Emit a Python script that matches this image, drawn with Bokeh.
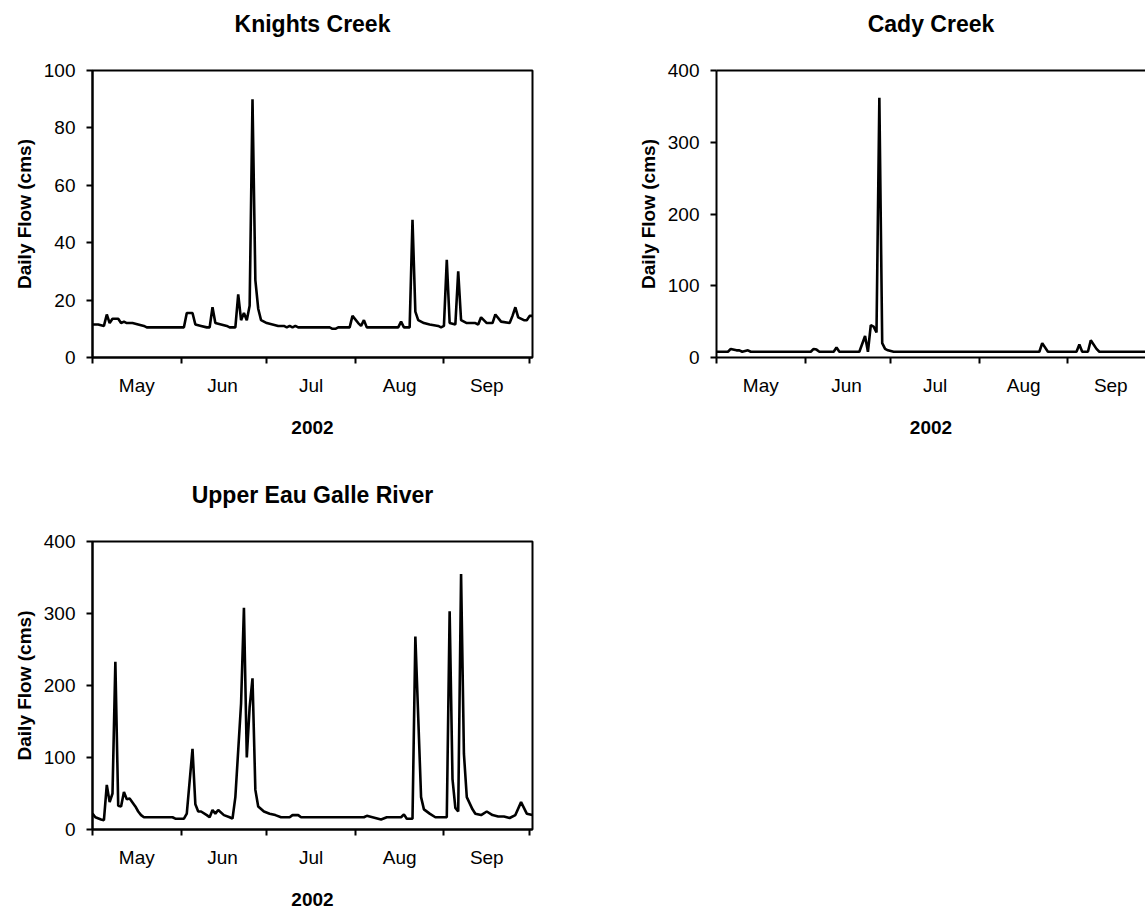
from bokeh.plotting import figure
from bokeh.models import Range1d, LinearAxis, FixedTicker
from bokeh.layouts import row, column
from bokeh.embed import file_html
from bokeh.resources import INLINE

# Days counted from 1 May 2002
month_ticks = [0, 31, 61, 92, 123, 153]
month_label_pos = [15.5, 45.5, 76.5, 107.5, 138]
month_labels = ["May", "Jun", "Jul", "Aug", "Sep"]
year_label = "2002"
y_title = "Daily Flow (cms)"

knights_day = [0, 2, 4, 5, 6, 7, 9, 10, 11, 12, 14, 16, 18, 19, 32, 33, 35, 36, 38, 40,
               41, 42, 43, 45, 47, 48, 50, 51, 52, 53, 54, 55, 56, 57, 58, 59, 61, 63, 65, 67,
               68, 69, 70, 71, 72, 83, 84, 85, 86, 90, 91, 93, 94, 95, 96, 107, 108, 109, 111, 112,
               113, 114, 116, 118, 121, 122, 123, 124, 125, 127, 128, 129, 131, 134, 135, 136, 138, 140, 141, 143,
               146, 147, 148, 149, 151, 152, 153, 154]
knights_flow = [11.5, 11.5, 11, 15, 12, 13.5, 13.5, 12, 12.5, 12, 12, 11.5, 11, 10.5, 10.5, 15.5, 15.5, 11.5, 11, 10.5,
                10.5, 17.5, 12, 11.5, 11, 10.5, 10.5, 22, 13, 15.5, 13, 18, 90, 27, 17, 13, 12, 11.5, 11, 11,
                10.5, 11, 10.5, 11, 10.5, 10.5, 10, 10, 10.5, 10.5, 14.5, 12, 11, 13, 10.5, 10.5, 12.5, 10.5, 10.5, 48,
                16, 13, 12, 11.5, 11, 10.5, 11, 34, 12, 11.5, 30, 13, 12, 12, 11.5, 14, 12, 12, 15, 12.5,
                12, 14.5, 17.5, 14, 13, 13, 14.5, 14.5]

cady_day = [0, 4, 5, 7, 8, 9, 11, 12, 33, 34, 35, 36, 41, 42, 43, 50, 52, 53, 54, 55,
            56, 57, 58, 59, 60, 62, 113, 114, 116, 126, 127, 128, 130, 131, 133, 134, 154]
cady_flow = [8, 8, 12, 10, 10, 8, 10, 8, 8, 12, 11, 8, 8, 14, 8, 8, 30, 8, 45, 43,
             35, 362, 20, 12, 10, 8, 8, 20, 8, 8, 18, 8, 8, 24, 12, 8, 8]

eau_day = [0, 1, 3, 4, 5, 6, 7, 8, 9, 10, 11, 12, 13, 15, 16, 17, 18, 28, 29, 32,
           33, 35, 36, 37, 38, 40, 41, 42, 43, 44, 46, 48, 49, 50, 52, 53, 54, 55, 56, 57,
           58, 60, 62, 64, 66, 69, 70, 72, 73, 95, 96, 98, 101, 103, 108, 109, 110, 112, 113, 115,
           116, 118, 120, 124, 125, 126, 127, 128, 129, 130, 131, 133, 134, 136, 138, 140, 142, 144, 146, 148,
           150, 152, 154]
eau_flow = [22, 17, 14, 13, 62, 38, 50, 233, 33, 32, 52, 42, 43, 32, 25, 20, 17, 17, 15, 15,
            22, 112, 35, 25, 25, 20, 17, 27, 22, 27, 20, 17, 15, 45, 175, 308, 100, 170, 210, 55,
            32, 25, 22, 20, 17, 17, 20, 20, 17, 17, 19, 17, 14, 17, 17, 21, 15, 15, 268, 45,
            28, 22, 17, 17, 303, 70, 30, 25, 355, 105, 45, 28, 22, 20, 25, 20, 18, 18, 16, 20,
            38, 22, 20]

FONT = "Liberation Sans"
PX_PER_DAY = 440 / 154.0


def make_panel(title, days, flow, ymax, ystep, width, height, left, top, bottom, right,
               x_end, outline=True):
    p = figure(width=width, height=height, output_backend="svg", toolbar_location=None,
               x_range=Range1d(0, x_end), y_range=Range1d(0, ymax),
               x_axis_location=None, min_border_left=left, min_border_top=top,
               min_border_bottom=bottom, min_border_right=right)
    p.grid.visible = False
    p.background_fill_color = "white"
    p.border_fill_color = "white"
    if outline:
        p.outline_line_color = "black"
        p.outline_line_width = 2
        p.outline_line_alpha = 1
    else:
        p.outline_line_color = None
    # top border line, carrying the panel title as its axis label
    top_axis = LinearAxis(ticker=FixedTicker(ticks=[]), axis_line_width=2,
                          axis_line_color=None if outline else "black",
                          major_tick_out=0, major_tick_in=0, major_tick_line_color=None,
                          minor_tick_out=0, minor_tick_in=0, minor_tick_line_color=None,
                          major_label_standoff=0,
                          axis_label=title, axis_label_text_font=FONT,
                          axis_label_text_font_size="23px", axis_label_text_font_style="bold",
                          axis_label_text_color="black", axis_label_standoff=34)
    p.add_layout(top_axis, "above")

    ya = p.yaxis[0]
    ya.ticker = FixedTicker(ticks=list(range(0, ymax + 1, ystep)))
    ya.axis_line_width = 2
    ya.axis_line_color = "black"
    ya.major_tick_out = 6
    ya.major_tick_in = 0
    ya.major_tick_line_width = 2
    ya.minor_tick_line_color = None
    ya.major_label_text_font = FONT
    ya.major_label_text_font_size = "19px"
    ya.major_label_text_color = "black"
    ya.major_label_standoff = 11
    ya.axis_label = y_title
    ya.axis_label_text_font = FONT
    ya.axis_label_text_font_size = "19px"
    ya.axis_label_text_font_style = "bold"
    ya.axis_label_text_color = "black"
    ya.axis_label_standoff = 6

    # month boundaries as (minor) tick marks, month names centred between them
    xa = LinearAxis(ticker=FixedTicker(ticks=month_label_pos, minor_ticks=month_ticks),
                    major_label_overrides={pos: lab for pos, lab in zip(month_label_pos, month_labels)},
                    axis_line_width=2, axis_line_color="black",
                    major_tick_line_color=None, major_tick_out=0, major_tick_in=0,
                    minor_tick_line_color="black", minor_tick_line_width=2,
                    minor_tick_out=6, minor_tick_in=0,
                    major_label_text_font=FONT, major_label_text_font_size="19px",
                    major_label_text_color="black", major_label_standoff=11,
                    axis_label=year_label, axis_label_text_font=FONT,
                    axis_label_text_font_size="19px", axis_label_text_font_style="bold",
                    axis_label_text_color="black", axis_label_standoff=22)
    p.add_layout(xa, "below")

    p.line(days, flow, line_color="black", line_width=2.6)
    return p


p1 = make_panel("Knights Creek", knights_day, knights_flow, 100, 20,
                width=600, height=471, left=92, top=70, bottom=114, right=68, x_end=154)
p3 = make_panel("Upper Eau Galle River", eau_day, eau_flow, 400, 100,
                width=600, height=440, left=92, top=70, bottom=82, right=68, x_end=154)
cady_w = 545
cady_left = 116
p2 = make_panel("Cady Creek", cady_day, cady_flow, 400, 100,
                width=cady_w, height=471, left=cady_left, top=70, bottom=114, right=0,
                x_end=(cady_w - cady_left) / PX_PER_DAY, outline=False)

layout = row(column(p1, p3), p2)
open("out.html", "w").write(file_html(layout, INLINE))
